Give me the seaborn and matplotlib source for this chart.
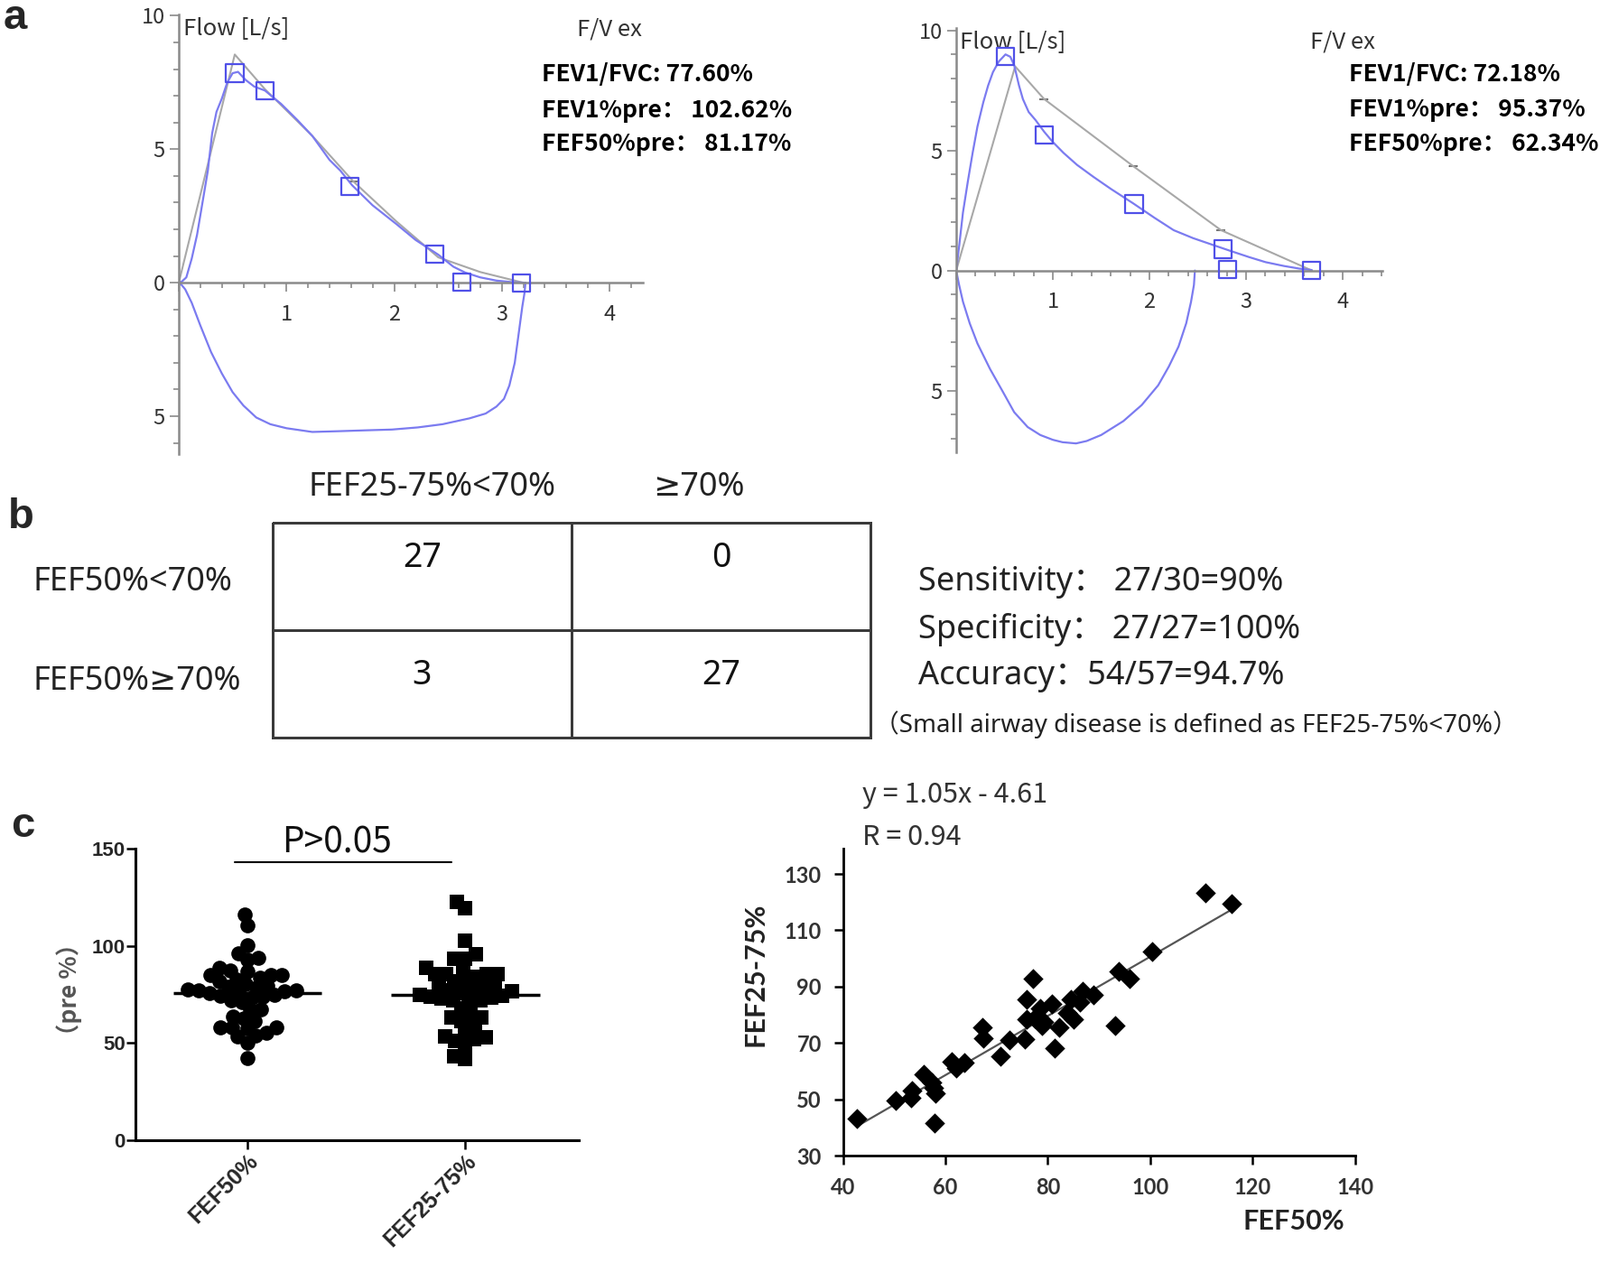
import numpy as np
import pandas as pd
import matplotlib
matplotlib.use("Agg")
import matplotlib.pyplot as plt
from matplotlib.colors import ListedColormap
from matplotlib.ticker import MultipleLocator, FuncFormatter
import seaborn as sns

# panel a, left loop: volume (L) vs flow (L/s), inspiratory flow stored negative
left_ex_vol = [0, 0.03, 0.07, 0.12, 0.17, 0.22, 0.27, 0.31, 0.35, 0.40, 0.45, 0.50, 0.55, 0.62, 0.70, 0.80,
               0.95, 1.10, 1.24, 1.40, 1.50, 1.61, 1.80, 2.02, 2.20, 2.41, 2.55, 2.66, 2.80, 2.95, 3.10, 3.22]
left_ex_flow = [0, 0.05, 0.2, 0.9, 1.8, 3.0, 4.2, 5.6, 6.4, 6.9, 7.5, 7.85, 7.9, 7.6, 7.35, 7.2,
                6.7, 6.1, 5.5, 4.6, 4.2, 3.65, 2.9, 2.2, 1.6, 1.05, 0.6, 0.38, 0.2, 0.08, 0.02, 0]
left_in_vol = [3.22, 3.21, 3.19, 3.16, 3.12, 3.07, 3.02, 2.95, 2.85, 2.70, 2.45, 2.22, 1.98, 1.73, 1.50,
               1.24, 1.00, 0.85, 0.72, 0.60, 0.50, 0.40, 0.30, 0.20, 0.12, 0.06, 0.03, 0]
left_in_flow = [0, -0.4, -0.9, -1.8, -3.0, -3.85, -4.35, -4.64, -4.9, -5.08, -5.3, -5.42, -5.5, -5.53, -5.56,
                -5.59, -5.45, -5.3, -5.05, -4.6, -4.1, -3.4, -2.6, -1.6, -0.75, -0.25, -0.1, 0]
left_pred_vol = [0, 0.52, 0.80, 1.24, 1.62, 2.02, 2.41, 2.80, 3.20]
left_pred_flow = [0, 8.55, 7.25, 5.5, 3.8, 2.3, 0.95, 0.4, 0.0]
left_mark_vol = [1.62]
left_mark_flow = [3.8]
left_sq_vol = [0.52, 0.80, 1.59, 2.38, 2.63, 3.18]
left_sq_flow = [7.85, 7.2, 3.62, 1.08, 0.03, 0.0]
left_stats = ["FEV1/FVC: 77.60%", "FEV1%pre： 102.62%", "FEF50%pre： 81.17%"]

# panel a, right loop
right_ex_vol = [0, 0.03, 0.07, 0.12, 0.17, 0.22, 0.28, 0.33, 0.38, 0.44, 0.51, 0.56, 0.60, 0.65, 0.69, 0.75,
                0.82, 0.91, 1.00, 1.11, 1.25, 1.42, 1.60, 1.83, 2.05, 2.25, 2.45, 2.66, 2.85, 3.03, 3.20,
                3.39, 3.55, 3.68]
right_ex_flow = [0, 1.0, 2.42, 3.7, 4.9, 6.0, 7.0, 7.7, 8.26, 8.7, 9.0, 8.9, 8.55, 7.7, 7.14, 6.6,
                 6.27, 5.78, 5.35, 4.9, 4.4, 3.9, 3.4, 2.8, 2.2, 1.68, 1.35, 1.06, 0.8, 0.56, 0.35,
                 0.19, 0.08, 0.02]
right_in_vol = [2.47, 2.46, 2.43, 2.38, 2.30, 2.20, 2.09, 1.92, 1.73, 1.50, 1.35, 1.24, 1.10, 1.00, 0.87,
                0.74, 0.60, 0.48, 0.35, 0.22, 0.14, 0.07, 0.03, 0]
right_in_flow = [0, -0.6, -1.3, -2.2, -3.17, -4.0, -4.78, -5.6, -6.27, -6.85, -7.1, -7.2, -7.15, -7.05, -6.85,
                 -6.52, -5.9, -5.03, -4.1, -3.04, -2.2, -1.3, -0.6, 0]
right_pred_vol = [0, 0.61, 0.91, 1.83, 2.74, 3.68]
right_pred_flow = [0, 8.5, 7.14, 4.35, 1.68, 0]
right_mark_vol = [0.91, 1.83, 2.74]
right_mark_flow = [7.14, 4.35, 1.68]
right_sq_vol = [0.51, 0.91, 1.84, 2.76, 2.81, 3.68]
right_sq_flow = [8.9, 5.63, 2.77, 0.89, 0.03, 0.02]
right_stats = ["FEV1/FVC: 72.18%", "FEV1%pre： 95.37%", "FEF50%pre： 62.34%"]

# panel b
col_labels = ["FEF25-75%<70%", "≥70%"]
row_labels = ["FEF50%<70%", "FEF50%≥70%"]
counts = [[27, 0], [3, 27]]
metrics = ["Sensitivity： 27/30=90%", "Specificity： 27/27=100%", "Accuracy：54/57=94.7%"]
note = "（Small airway disease is defined as FEF25-75%<70%）"

# panel c
groups = ["FEF50%", "FEF25-75%"]
fef50_dots = [115.9, 110.6, 100.5, 96.1, 94, 92.7, 88.9, 87.3, 86.9, 85, 83.7, 81.9, 82.7, 85, 85.2,
              80.4, 79.5, 78.8, 77.6, 77.2, 78.5, 77.0, 76.3, 75.6, 74.9, 74.2, 73.5, 76.8, 73.9, 71.1,
              71.8, 67.2, 67.2, 61.5, 62.6, 63.6, 57.9, 57.4, 57.9, 57.9, 53.7, 53.3, 55.3, 50.2, 42.1]
fef2575_dots = [122.8, 119.2, 102.7, 95.8, 93.5, 93.5, 88.9, 87.3, 85.5, 85.5, 84.2, 85.5, 85.5, 81.9,
                81.9, 79.6, 79, 77.8, 77.0, 76.4, 75.6, 74.9, 74.2, 73.5, 72.8, 76.9, 73.9, 71.8, 71.8, 71.8,
                68, 63.3, 61.3, 63.3, 64.9, 58.7, 56.1, 52.9, 48.8, 52, 53.6, 50.9, 41.7, 43.2]
sc_fef50 = [42.7, 50.4, 53.3, 53.5, 55.8, 57.4, 57.7, 58.1, 57.9, 61.3, 62.1, 63.7, 67.2, 67.5, 70.7,
            72.5, 75.5, 75.8, 75.9, 77.1, 77.5, 78.6, 78.9, 79.3, 80.9, 81.4, 82.3, 83.8, 84.5, 85.1,
            86.3, 86.8, 88.9, 93.1, 93.9, 95.9, 100.4, 110.8, 116.0]
sc_fef2575 = [43, 49.5, 50.5, 53.2, 59, 56, 54, 52, 41.7, 63.3, 61, 63, 75.6, 71.6, 65.3,
              71, 71.3, 78.5, 85.4, 92.9, 78.7, 82.2, 76.2, 77.6, 84, 68.2, 75.6, 80.8, 85.6, 78.3,
              84.5, 88.3, 87.1, 76.2, 95.5, 92.9, 102.6, 123.3, 119.3]

sns.set_theme(style="white")
plt.rcParams['font.family'] = ['Noto Sans CJK SC', 'DejaVu Sans']
table_font = ['Noto Sans', 'DejaVu Sans', 'Noto Sans CJK SC']

W, H = 1772, 1399
fig = plt.figure(figsize=(W / 100, H / 100), dpi=100)


def box(x0, y0, x1, y1):
    return [x0 / W, 1 - y1 / H, (x1 - x0) / W, (y1 - y0) / H]


def ftext(px, py, s, **kw):
    kw.setdefault('va', 'center')
    fig.text(px / W, 1 - py / H, s, **kw)


blue = "#7b7bf0"
sq_blue = "#5050e8"
pred_grey = "#a8a8a8"
axis_grey = "#8a8a8a"


def flow_volume(rect, xmax, ylo, yhi, ex, insp, pred, marks, squares, stats, sx, sy):
    ax = fig.add_axes(rect)
    sns.lineplot(x=pred[0], y=pred[1], sort=False, estimator=None, color=pred_grey, lw=1.5, ax=ax)
    sns.scatterplot(x=marks[0], y=marks[1], marker='_', s=60, color='#777777', linewidth=1.5, ax=ax)
    sns.lineplot(x=ex[0], y=ex[1], sort=False, estimator=None, color=blue, lw=1.6, ax=ax)
    sns.lineplot(x=insp[0], y=insp[1], sort=False, estimator=None, color=blue, lw=1.6, ax=ax)
    sns.scatterplot(x=squares[0], y=squares[1], marker='s', s=190, facecolor='none',
                    edgecolor=sq_blue, linewidth=1.6, ax=ax, zorder=4)
    ax.set_xlim(0, xmax)
    ax.set_ylim(ylo, yhi)
    ax.spines['left'].set_position(('data', 0))
    ax.spines['bottom'].set_position(('data', 0))
    for s in ['top', 'right']:
        ax.spines[s].set_visible(False)
    for s in ['left', 'bottom']:
        ax.spines[s].set_color(axis_grey)
        ax.spines[s].set_linewidth(1.8)
    ax.xaxis.set_major_locator(MultipleLocator(1))
    ax.xaxis.set_minor_locator(MultipleLocator(0.2))
    ax.yaxis.set_major_locator(MultipleLocator(5))
    ax.yaxis.set_minor_locator(MultipleLocator(1))
    ax.xaxis.set_major_formatter(FuncFormatter(lambda v, p: '' if v == 0 else f'{v:g}'))
    ax.yaxis.set_major_formatter(FuncFormatter(lambda v, p: f'{abs(v):g}'))
    ax.tick_params(which='both', bottom=True, left=True, direction='out', color=axis_grey, width=1.2)
    ax.tick_params(which='major', length=7, labelsize=17, labelcolor='#333333')
    ax.tick_params(which='minor', length=4)
    ax.tick_params(axis='x', pad=10)
    ax.tick_params(axis='y', pad=4)
    ax.set_xlabel('')
    ax.set_ylabel('')
    ax.text(0.04, 9.5, "Flow [L/s]", fontsize=18.5, color='#333333', va='center')
    ax.text(4.0, 9.5, "F/V ex", fontsize=18.5, color='#333333', va='center', ha='center')
    for t, y in zip(stats, sy):
        ax.text(sx, y, t, fontsize=19, fontweight='bold', color='black', va='center')
    return ax


flow_volume(box(198, 16, 712, 503), 4.31, -6.42, 10.05,
            (left_ex_vol, left_ex_flow), (left_in_vol, left_in_flow),
            (left_pred_vol, left_pred_flow), (left_mark_vol, left_mark_flow),
            (left_sq_vol, left_sq_flow), left_stats, 3.37, [7.79, 6.45, 5.19])
flow_volume(box(1059, 31, 1531, 501), 4.41, -7.57, 10.1,
            (right_ex_vol, right_ex_flow), (right_in_vol, right_in_flow),
            (right_pred_vol, right_pred_flow), (right_mark_vol, right_mark_flow),
            (right_sq_vol, right_sq_flow), right_stats, 4.06, [8.17, 6.68, 5.28])

# panel b: 2x2 table
axb = fig.add_axes(box(302, 579, 964, 817))
sns.heatmap(counts, cmap=ListedColormap(['white']), cbar=False, linewidths=2, linecolor='#3a3a3a', ax=axb)
axb.collections[0].set_clip_on(False)
axb.set_xticks([])
axb.set_yticks([])
num_off = [0.33, 0.42]
for i in range(2):
    for j in range(2):
        axb.text(j + 0.5, i + num_off[i], str(counts[i][j]), ha='center', va='center',
                 fontsize=27, color='#111111', family=table_font)
ftext(479, 540, col_labels[0], ha='center', fontsize=26, color='#222222', family=table_font)
ftext(774, 540, col_labels[1], ha='center', fontsize=26, color='#222222', family=table_font)
ftext(37, 645, row_labels[0], fontsize=26, color='#222222', family=table_font)
ftext(37, 755, row_labels[1], fontsize=26, color='#222222', family=table_font)
for t, y in zip(metrics, [645, 697, 749]):
    ftext(1017, y, t, fontsize=26, color='#222222', family=table_font)
ftext(968, 803, note, fontsize=20, color='#222222', family=table_font)

# panel c, left: dot plot
axc = fig.add_axes(box(150, 940, 641, 1263))
dots = pd.DataFrame({'group': [groups[0]] * len(fef50_dots) + [groups[1]] * len(fef2575_dots),
                     'value': fef50_dots + fef2575_dots})
sns.swarmplot(data=dots[dots.group == groups[0]], x='group', y='value', order=groups,
              marker='o', size=8.5, color='black', ax=axc)
sns.swarmplot(data=dots[dots.group == groups[1]], x='group', y='value', order=groups,
              marker='s', size=8.5, color='black', ax=axc)
axc.set_ylim(0, 150)
axc.set_xlim(-0.512, 1.52)
# let the swarm settle with tight spacing, then draw the markers at full size (they overlap, as in the figure)
fig.canvas.draw()
swarms = [c for c in axc.collections if len(c.get_offsets()) > 0]
for coll, ms in zip(swarms, [12, 11.5]):
    if 'draw' in coll.__dict__:
        del coll.draw
    coll.set_sizes([ms ** 2])
for i, g in enumerate(groups):
    m = dots.loc[dots.group == g, 'value'].mean()
    axc.hlines(m, i - 0.34, i + 0.34, color='black', lw=2.5, zorder=5)
axc.set_yticks([0, 50, 100, 150])
for s in ['top', 'right']:
    axc.spines[s].set_visible(False)
for s in ['left', 'bottom']:
    axc.spines[s].set_color('black')
    axc.spines[s].set_linewidth(2.2)
axc.tick_params(bottom=True, left=True, direction='out', length=7, width=1.8, color='black', pad=1)
for lab in axc.get_yticklabels():
    lab.set_family(['Liberation Sans', 'DejaVu Sans'])
    lab.set_fontweight('bold')
    lab.set_fontsize(16)
for lab in axc.get_xticklabels():
    lab.set_family(['Liberation Sans', 'DejaVu Sans'])
    lab.set_fontweight('bold')
    lab.set_fontsize(18)
    lab.set_rotation(45)
    lab.set_ha('right')
    lab.set_rotation_mode('anchor')
axc.set_xlabel('')
axc.set_ylabel('（pre %）', fontsize=19, fontweight='bold', color='#555555')
axc.yaxis.set_label_coords(-0.12, 0.517)
axc.plot([-0.056, 0.938], [143, 143], color='black', lw=1.5, clip_on=False)
axc.text(0.41, 153, "P>0.05", ha='center', va='center', fontsize=28, color='#111111', clip_on=False)

# panel c, right: correlation
axs = fig.add_axes(box(933.5, 940, 1500.6, 1280))
sns.regplot(x=sc_fef50, y=sc_fef2575, scatter=False, ci=None, color='#555555', line_kws={'lw': 1.6}, ax=axs)
sns.scatterplot(x=sc_fef50, y=sc_fef2575, marker='D', s=130, color='black', linewidth=0, ax=axs, zorder=3)
axs.set_xlim(40, 140)
axs.set_ylim(30, 139)
axs.set_xticks(range(40, 141, 20))
axs.set_yticks(range(30, 131, 20))
for s in ['top', 'right']:
    axs.spines[s].set_visible(False)
for s in ['left', 'bottom']:
    axs.spines[s].set_color('black')
    axs.spines[s].set_linewidth(2.0)
axs.tick_params(bottom=True, left=True, direction='out', length=7, width=1.8, color='black', pad=10)
for lab in axs.get_xticklabels() + axs.get_yticklabels():
    lab.set_family(['Lato', 'DejaVu Sans'])
    lab.set_fontweight('bold')
    lab.set_fontsize(17)
    lab.set_color('#333333')
axs.set_xlabel('FEF50%', fontsize=22, fontweight='bold', family=['Lato', 'DejaVu Sans'], color='#222222')
axs.set_ylabel('FEF25-75%', fontsize=22, fontweight='bold', family=['Lato', 'DejaVu Sans'], color='#222222')
axs.xaxis.set_label_coords(0.881, -0.175)
axs.yaxis.set_label_coords(-0.1455, 0.59)
ftext(955, 880, "y = 1.05x - 4.61", fontsize=22, color='#333333')
ftext(955, 927, "R = 0.94", fontsize=22, color='#333333')

# panel letters
for letter, (px, py) in zip("abc", [(17, 20), (23, 573), (25, 915)]):
    ftext(px, py, letter, ha='center', fontsize=34, fontweight='bold', family=['Liberation Sans', 'DejaVu Sans'])

fig.savefig("out.png", dpi=100)
